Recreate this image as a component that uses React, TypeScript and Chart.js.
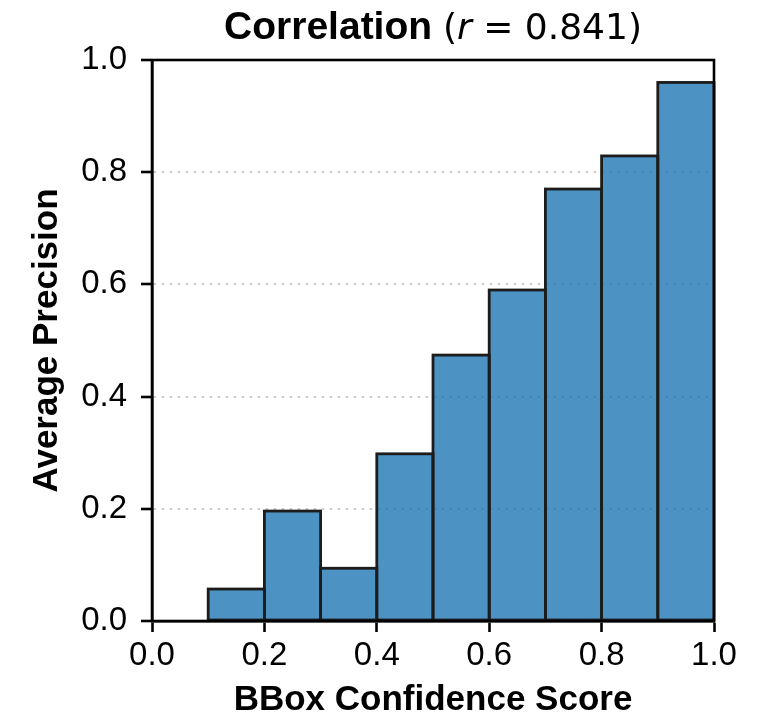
import React, { useEffect, useRef } from "react";
import { Chart, registerables } from "chart.js";

Chart.register(...registerables);

// ---- data ----
const binStarts = [0.1, 0.2, 0.3, 0.4, 0.5, 0.6, 0.7, 0.8, 0.9];
const binWidth = 0.1;
const averagePrecision = [0.057, 0.196, 0.094, 0.298, 0.474, 0.59, 0.77, 0.829, 0.96];
const xTickValues = [0.0, 0.2, 0.4, 0.6, 0.8, 1.0];
const yTickValues = [0.0, 0.2, 0.4, 0.6, 0.8, 1.0];
const titleText = "Correlation";
const titleSymbol = "r";
const titleValue = "0.841";
const xAxisLabel = "BBox Confidence Score";
const yAxisLabel = "Average Precision";

const SANS = "'Liberation Sans', Arial, Helvetica, sans-serif";
const MATH = "'DejaVu Sans', sans-serif";

const titlePlugin = {
  id: "mixedTitle",
  afterDraw(chart: any) {
    const { ctx, chartArea } = chart;
    const parts = [
      { t: titleText + " ", f: `bold 39px ${SANS}` },
      { t: "(", f: `36px ${MATH}` },
      { t: titleSymbol, f: `oblique 36px ${MATH}` },
      { t: " = ", f: `36px ${MATH}` },
      { t: titleValue, f: `36px ${MATH}` },
      { t: ")", f: `36px ${MATH}` },
    ];
    ctx.save();
    let total = 0;
    const widths = parts.map((p) => {
      ctx.font = p.f;
      const w = ctx.measureText(p.t).width;
      total += w;
      return w;
    });
    let x = (chartArea.left + chartArea.right) / 2 - total / 2;
    const baseline = 39;
    ctx.fillStyle = "#000";
    ctx.textBaseline = "alphabetic";
    ctx.textAlign = "left";
    parts.forEach((p, i) => {
      ctx.font = p.f;
      ctx.fillText(p.t, x, baseline);
      x += widths[i];
    });
    ctx.restore();
  },
};

const outlinePlugin = {
  id: "barOutline",
  afterDatasetsDraw(chart: any) {
    const { ctx } = chart;
    const meta = chart.getDatasetMeta(0);
    ctx.save();
    ctx.strokeStyle = "#1c1c1c";
    ctx.lineWidth = 2.8;
    ctx.lineJoin = "miter";
    meta.data.forEach((el: any) => {
      const { x, y, base, width } = el.getProps(["x", "y", "base", "width"], true);
      ctx.strokeRect(x - width / 2, y, width, base - y);
    });
    ctx.restore();
  },
};

const framePlugin = {
  id: "frame",
  afterDraw(chart: any) {
    const { ctx, chartArea } = chart;
    ctx.save();
    ctx.strokeStyle = "#000";
    ctx.lineWidth = 2.6;
    ctx.strokeRect(
      chartArea.left,
      chartArea.top,
      chartArea.right - chartArea.left,
      chartArea.bottom - chartArea.top
    );
    ctx.restore();
  },
};

export default function App() {
  const ref = useRef<HTMLCanvasElement | null>(null);

  useEffect(() => {
    if (!ref.current) return;
    const points = binStarts.map((s, i) => ({ x: s + binWidth / 2, y: averagePrecision[i] }));
    const chart = new Chart(ref.current, {
      type: "bar",
      data: {
        datasets: [
          {
            data: points as any,
            backgroundColor: "rgba(31,119,180,0.8)",
            borderWidth: 0,
            barPercentage: 1,
            categoryPercentage: 1,
            inflateAmount: 0,
          } as any,
        ],
      },
      plugins: [outlinePlugin, framePlugin, titlePlugin],
      options: {
        animation: false,
        responsive: false,
        devicePixelRatio: 1,
        layout: { padding: { top: 60, right: 43, left: 0, bottom: 0 } },
        plugins: {
          legend: { display: false },
          title: { display: false },
          tooltip: { enabled: false },
        },
        scales: {
          x: {
            type: "linear",
            min: 0,
            max: 1,
            offset: false,
            afterBuildTicks: (scale: any) => {
              scale.ticks = xTickValues.map((v) => ({ value: v }));
            },
            afterFit: (scale: any) => {
              scale.height = 100;
              scale.paddingLeft = 0;
              scale.paddingRight = 0;
            },
            grid: {
              offset: false,
              drawOnChartArea: false,
              drawTicks: true,
              tickLength: 11,
              tickWidth: 2.6,
              tickColor: "#000",
            },
            border: { display: true, color: "#000", width: 2.6 },
            ticks: {
              autoSkip: false,
              maxRotation: 0,
              padding: 4,
              color: "#000",
              font: { family: SANS, size: 33 },
              callback: (v: any) => Number(v).toFixed(1),
            },
            title: {
              display: true,
              text: xAxisLabel,
              color: "#000",
              font: { family: SANS, size: 35, weight: "bold" },
              padding: { top: 0, bottom: 0 },
            },
          } as any,
          y: {
            type: "linear",
            min: 0,
            max: 1,
            afterBuildTicks: (scale: any) => {
              scale.ticks = yTickValues.map((v) => ({ value: v }));
            },
            afterFit: (scale: any) => {
              scale.width = 152;
              scale.paddingTop = 0;
              scale.paddingBottom = 0;
            },
            grid: {
              drawOnChartArea: true,
              drawTicks: true,
              color: "rgba(195,195,195,0.85)",
              lineWidth: 2,
              tickLength: 11,
              tickWidth: 2.6,
              tickColor: "#000",
              tickBorderDash: [],
            },
            border: { display: true, color: "#000", width: 2.6, dash: [2.5, 5.5] },
            ticks: {
              autoSkip: false,
              padding: 14,
              color: "#000",
              font: { family: SANS, size: 33 },
              callback: (v: any) => Number(v).toFixed(1),
            },
            title: {
              display: true,
              text: yAxisLabel,
              color: "#000",
              font: { family: SANS, size: 35, weight: "bold" },
              padding: { top: 26, bottom: 0 },
            },
          } as any,
        },
      },
    });
    return () => chart.destroy();
  }, []);

  return (
    <div style={{ position: "absolute", left: 0, top: 0, width: 757, height: 721, background: "#fff" }}>
      <canvas ref={ref} width={757} height={721} style={{ display: "block" }} />
    </div>
  );
}
